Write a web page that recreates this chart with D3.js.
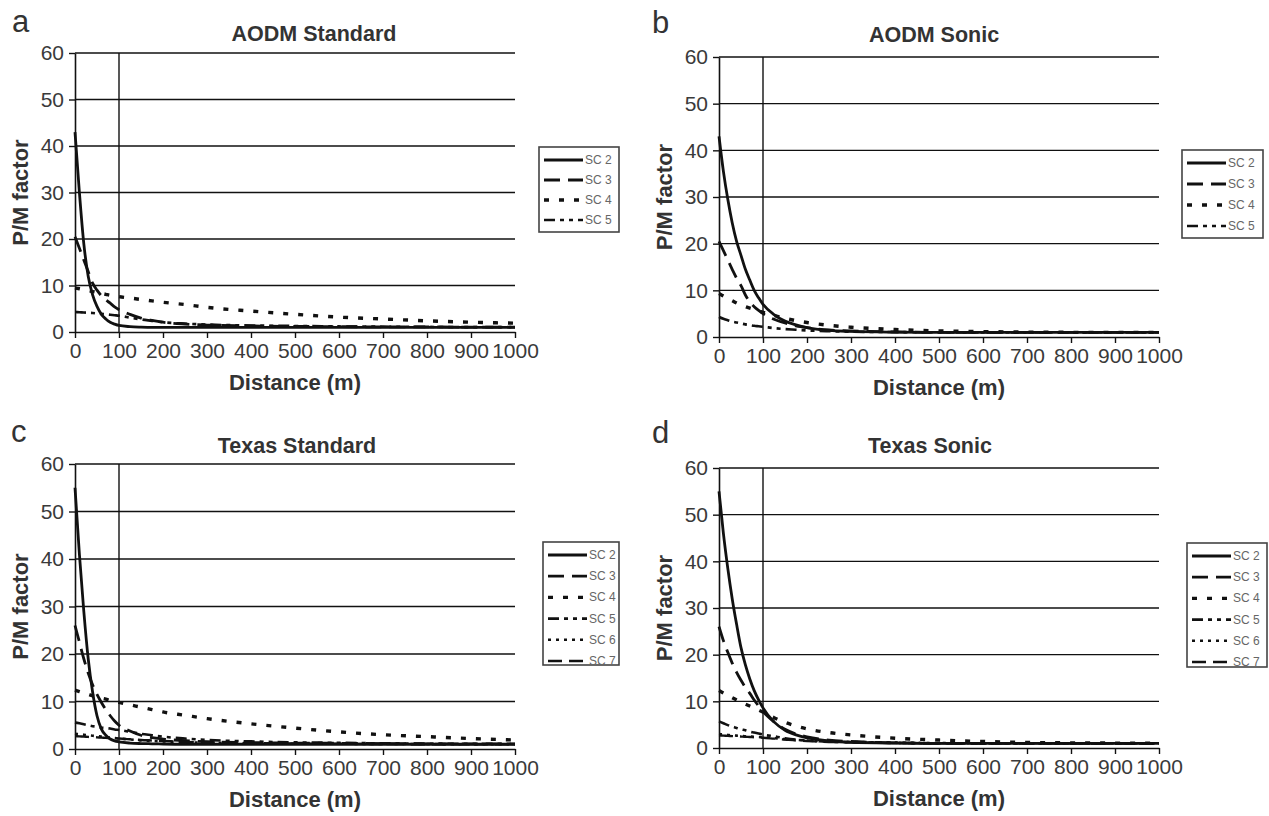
<!DOCTYPE html>
<html>
<head>
<meta charset="utf-8">
<script src="https://cdn.jsdelivr.net/npm/d3@7"></script>
<style>
  body { margin: 0; background: #fff; }
  text { font-family: "Liberation Sans", Arial, sans-serif; }
</style>
</head>
<body>
<div id="chart"></div>
<script>
const distance = [0, 10, 20, 30, 40, 50, 60, 70, 80, 90, 100, 125, 150, 175, 200, 250, 300, 400, 500, 600, 700, 800, 900, 1000];

const xTicks = [0, 100, 200, 300, 400, 500, 600, 700, 800, 900, 1000];
const yTicks = [0, 10, 20, 30, 40, 50, 60];

// a - AODM Standard
const aodmStdSC2 = [43, 30, 19, 12, 8, 5.5, 3.8, 2.8, 2.1, 1.7, 1.4, 1.15, 1.05, 1.0, 1.0, 1.0, 1.0, 1.0, 1.0, 1.0, 1.0, 1.0, 1.0, 1.0];
const aodmStdSC3 = [20.5, 18, 15.5, 13, 10.5, 9, 7.8, 6.9, 6.2, 5.4, 4.8, 3.8, 3.0, 2.5, 2.1, 1.7, 1.5, 1.3, 1.2, 1.15, 1.1, 1.1, 1.05, 1.05];
const aodmStdSC4 = [9.5, 9.3, 9.1, 8.9, 8.7, 8.5, 8.3, 8.1, 7.9, 7.8, 7.6, 7.3, 7.0, 6.7, 6.4, 5.9, 5.3, 4.5, 3.8, 3.2, 2.8, 2.4, 2.1, 1.9];
const aodmStdSC5 = [4.3, 4.25, 4.2, 4.15, 4.1, 4.0, 3.9, 3.8, 3.7, 3.6, 3.5, 3.1, 2.7, 2.4, 2.1, 1.8, 1.6, 1.4, 1.3, 1.2, 1.15, 1.1, 1.05, 1.05];

// b - AODM Sonic
const aodmSonSC2 = [43, 35.5, 29.5, 24.5, 20.5, 17.5, 14.5, 12.2, 10.0, 8.4, 7.0, 4.8, 3.4, 2.6, 2.0, 1.4, 1.2, 1.05, 1.0, 1.0, 1.0, 1.0, 1.0, 1.0];
const aodmSonSC3 = [20.5, 18.5, 16.5, 14.5, 12.6, 11, 9.0, 7.5, 6.5, 5.7, 5.0, 3.8, 3.0, 2.4, 2.0, 1.5, 1.3, 1.1, 1.0, 1.0, 1.0, 1.0, 1.0, 1.0];
const aodmSonSC4 = [9.3, 8.8, 8.3, 7.8, 7.3, 6.9, 6.5, 6.2, 5.9, 5.6, 5.3, 4.6, 4.0, 3.5, 3.1, 2.5, 2.1, 1.6, 1.3, 1.15, 1.05, 1.0, 1.0, 1.0];
const aodmSonSC5 = [4.3, 3.9, 3.6, 3.3, 3.1, 2.9, 2.7, 2.55, 2.4, 2.3, 2.2, 1.9, 1.7, 1.55, 1.4, 1.25, 1.15, 1.05, 1.0, 1.0, 1.0, 1.0, 1.0, 1.0];

// c - Texas Standard
const texStdSC2 = [55, 41, 29, 19, 12, 7, 4.2, 2.9, 2.1, 1.7, 1.5, 1.25, 1.15, 1.1, 1.05, 1.0, 1.0, 1.0, 1.0, 1.0, 1.0, 1.0, 1.0, 1.0];
const texStdSC3 = [26, 22.5, 19, 16, 13.5, 11.5, 9.8, 8.3, 7.0, 5.9, 5.0, 3.8, 2.9, 2.4, 2.1, 1.75, 1.55, 1.35, 1.25, 1.2, 1.15, 1.1, 1.1, 1.05];
const texStdSC4 = [12.4, 12.1, 11.8, 11.5, 11.2, 11, 10.7, 10.5, 10.2, 10, 9.8, 9.3, 8.8, 8.3, 7.8, 7.1, 6.4, 5.3, 4.4, 3.6, 3.0, 2.6, 2.2, 1.9];
const texStdSC5 = [5.6, 5.4, 5.2, 5.0, 4.8, 4.7, 4.5, 4.4, 4.3, 4.1, 4.0, 3.6, 3.2, 2.9, 2.6, 2.2, 1.9, 1.6, 1.4, 1.3, 1.2, 1.15, 1.1, 1.1];
const texStdSC6 = [3.2, 3.1, 3.0, 2.9, 2.8, 2.7, 2.6, 2.5, 2.4, 2.3, 2.2, 2.0, 1.8, 1.7, 1.6, 1.4, 1.3, 1.2, 1.1, 1.1, 1.05, 1.05, 1.0, 1.0];
const texStdSC7 = [2.7, 2.65, 2.6, 2.55, 2.5, 2.45, 2.4, 2.35, 2.3, 2.25, 2.2, 2.05, 1.9, 1.8, 1.7, 1.5, 1.4, 1.25, 1.15, 1.1, 1.05, 1.0, 1.0, 1.0];

// d - Texas Sonic
const texSonSC2 = [55, 46, 38.5, 32, 26.5, 21.5, 17.8, 14.8, 12.3, 10.3, 8.6, 5.6, 3.8, 2.8, 2.2, 1.5, 1.2, 1.05, 1.0, 1.0, 1.0, 1.0, 1.0, 1.0];
const texSonSC3 = [26, 23, 20.5, 18.2, 16.2, 14.5, 13, 11.7, 10.3, 9, 7.8, 5.6, 4.0, 3.0, 2.4, 1.7, 1.4, 1.1, 1.0, 1.0, 1.0, 1.0, 1.0, 1.0];
const texSonSC4 = [12.3, 11.8, 11.3, 10.8, 10.3, 9.8, 9.4, 9.0, 8.6, 8.1, 7.7, 6.5, 5.5, 4.7, 4.1, 3.3, 2.8, 2.1, 1.7, 1.4, 1.2, 1.1, 1.05, 1.0];
const texSonSC5 = [5.7, 5.3, 4.9, 4.6, 4.3, 4.0, 3.8, 3.5, 3.3, 3.1, 2.9, 2.5, 2.1, 1.8, 1.6, 1.35, 1.25, 1.1, 1.0, 1.0, 1.0, 1.0, 1.0, 1.0];
const texSonSC6 = [3.0, 2.9, 2.8, 2.7, 2.65, 2.6, 2.5, 2.45, 2.4, 2.35, 2.3, 2.1, 1.9, 1.75, 1.6, 1.4, 1.3, 1.15, 1.05, 1.0, 1.0, 1.0, 1.0, 1.0];
const texSonSC7 = [2.7, 2.65, 2.6, 2.55, 2.5, 2.45, 2.4, 2.35, 2.3, 2.25, 2.2, 2.0, 1.8, 1.6, 1.5, 1.3, 1.2, 1.1, 1.0, 1.0, 1.0, 1.0, 1.0, 1.0];

const seriesNames = ["SC 2", "SC 3", "SC 4", "SC 5", "SC 6", "SC 7"];

// line style for each stability class
const styles = {
  "SC 2": { dash: null, w: 2.8 },
  "SC 3": { dash: "16,8", w: 2.8 },
  "SC 4": { dash: "5,10", w: 3.4 },
  "SC 5": { dash: "11,5,4,5,4,5", w: 2.6 },
  "SC 6": { dash: "3,5", w: 2.6 },
  "SC 7": { dash: "14,7", w: 2.4 }
};

const panels = [
  { letter: "a", title: "AODM Standard", lx: 12, ly: 32, tx: 314, ty: 41,
    left: 75, top: 53, right: 515, bottom: 332,
    legend: { x: 539, y: 147, w: 80, h: 85, row: 20 },
    series: [aodmStdSC2, aodmStdSC3, aodmStdSC4, aodmStdSC5] },
  { letter: "b", title: "AODM Sonic", lx: 652, ly: 33, tx: 934, ty: 42,
    left: 719, top: 57, right: 1159, bottom: 337,
    legend: { x: 1182, y: 150, w: 81, h: 88, row: 21 },
    series: [aodmSonSC2, aodmSonSC3, aodmSonSC4, aodmSonSC5] },
  { letter: "c", title: "Texas Standard", lx: 11, ly: 442, tx: 297, ty: 453,
    left: 75, top: 464, right: 515, bottom: 749,
    legend: { x: 543, y: 542, w: 76, h: 123, row: 21.2 },
    series: [texStdSC2, texStdSC3, texStdSC4, texStdSC5, texStdSC6, texStdSC7] },
  { letter: "d", title: "Texas Sonic", lx: 652, ly: 443, tx: 930, ty: 453,
    left: 719, top: 468, right: 1159, bottom: 748,
    legend: { x: 1187, y: 543, w: 80, h: 124, row: 21.2 },
    series: [texSonSC2, texSonSC3, texSonSC4, texSonSC5, texSonSC6, texSonSC7] }
];

const svg = d3.select("#chart")
  .append("svg")
  .attr("width", 1269)
  .attr("height", 816);

svg.append("rect")
  .attr("width", 1269)
  .attr("height", 816)
  .attr("fill", "#fff");

panels.forEach(function(p) {
  const x = d3.scaleLinear().domain([0, 1000]).range([p.left, p.right]);
  const y = d3.scaleLinear().domain([0, 60]).range([p.bottom, p.top]);

  const g = svg.append("g");

  // panel letter and title
  g.append("text")
    .attr("x", p.lx).attr("y", p.ly)
    .attr("font-size", 31)
    .attr("fill", "#333")
    .text(p.letter);

  g.append("text")
    .attr("x", p.tx).attr("y", p.ty)
    .attr("text-anchor", "middle")
    .attr("font-size", 21.5)
    .attr("font-weight", "bold")
    .attr("fill", "#333")
    .text(p.title);

  // horizontal gridlines
  g.selectAll(".grid")
    .data(yTicks.slice(1))
    .enter().append("line")
    .attr("x1", p.left).attr("x2", p.right)
    .attr("y1", d => y(d)).attr("y2", d => y(d))
    .attr("stroke", "#111")
    .attr("stroke-width", 1.4);

  // vertical reference line at 100 m
  g.append("line")
    .attr("x1", x(100)).attr("x2", x(100))
    .attr("y1", p.top).attr("y2", p.bottom)
    .attr("stroke", "#111")
    .attr("stroke-width", 1.4);

  // axes
  const xAxis = g.append("g")
    .attr("transform", "translate(0," + p.bottom + ")")
    .call(d3.axisBottom(x).tickValues(xTicks).tickFormat(d3.format("d"))
      .tickSize(6).tickSizeOuter(0).tickPadding(5));

  const yAxis = g.append("g")
    .attr("transform", "translate(" + p.left + ",0)")
    .call(d3.axisLeft(y).tickValues(yTicks).tickSize(6).tickSizeOuter(0).tickPadding(5));

  [xAxis, yAxis].forEach(function(ax) {
    ax.select(".domain").attr("stroke", "#111").attr("stroke-width", 1.6);
    ax.selectAll(".tick line").attr("stroke", "#111").attr("stroke-width", 1.4);
    ax.selectAll(".tick text")
      .attr("font-size", 21)
      .attr("font-family", "Liberation Sans, Arial, sans-serif")
      .attr("fill", "#3a3a3a");
  });

  // axis titles
  g.append("text")
    .attr("x", (p.left + p.right) / 2)
    .attr("y", p.bottom + 58)
    .attr("text-anchor", "middle")
    .attr("font-size", 22)
    .attr("font-weight", "bold")
    .attr("fill", "#333")
    .text("Distance (m)");

  g.append("text")
    .attr("transform", "translate(" + (p.left - 47) + "," + ((p.top + p.bottom) / 2) + ") rotate(-90)")
    .attr("text-anchor", "middle")
    .attr("font-size", 22)
    .attr("font-weight", "bold")
    .attr("fill", "#333")
    .text("P/M factor");

  // curves
  const line = d3.line()
    .x((d, i) => x(distance[i]))
    .y(d => y(d))
    .curve(d3.curveMonotoneX);

  p.series.forEach(function(vals, i) {
    const st = styles[seriesNames[i]];
    g.append("path")
      .datum(vals)
      .attr("d", line)
      .attr("fill", "none")
      .attr("stroke", "#111")
      .attr("stroke-width", st.w)
      .attr("stroke-dasharray", st.dash);
  });

  // legend
  const L = p.legend;
  const leg = g.append("g").attr("transform", "translate(" + L.x + "," + L.y + ")");
  leg.append("rect")
    .attr("width", L.w).attr("height", L.h)
    .attr("fill", "#fff")
    .attr("stroke", "#444")
    .attr("stroke-width", 1.6);

  p.series.forEach(function(vals, i) {
    const name = seriesNames[i];
    const st = styles[name];
    const ry = 13 + i * L.row;
    leg.append("line")
      .attr("x1", 5).attr("x2", 44)
      .attr("y1", ry).attr("y2", ry)
      .attr("stroke", "#111")
      .attr("stroke-width", st.w)
      .attr("stroke-dasharray", st.dash);
    leg.append("text")
      .attr("x", 46).attr("y", ry + 4)
      .attr("font-size", 12)
      .attr("fill", "#666")
      .text(name);
  });
});
</script>
</body>
</html>
